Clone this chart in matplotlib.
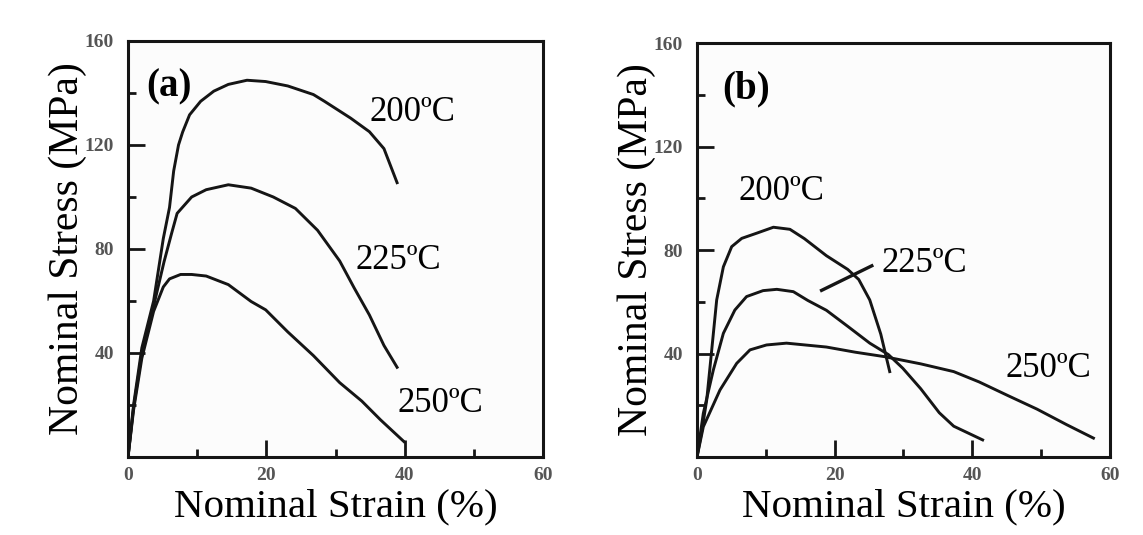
import matplotlib
matplotlib.use("Agg")
import matplotlib.pyplot as plt
from matplotlib.ticker import MultipleLocator

plt.rcParams['font.family'] = ['Liberation Serif', 'DejaVu Serif']

# (a) curvas tension-deformacion
a200_x = [0, 0.8, 2.0, 3.7, 5.1, 6.0, 6.6, 7.3, 7.9, 8.9, 10.5, 12.4, 14.5, 17.2, 19.9,
          23.1, 26.8, 28.4, 32.2, 34.9, 37.0, 38.9]
a200_y = [0, 20, 42, 60, 84, 96, 110, 120, 125, 131.6, 136.8, 140.7, 143.3, 144.9, 144.4,
          142.7, 139.4, 136.8, 130.3, 125.1, 118.6, 105.5]
a225_x = [0, 0.8, 2.0, 3.7, 5.2, 6.3, 7.1, 9.2, 11.3, 14.5, 17.8, 21.0, 24.2, 27.4, 30.6,
          32.7, 34.9, 37.0, 38.9]
a225_y = [0, 19, 40, 58, 75, 86, 93.7, 100, 102.8, 104.7, 103.4, 100, 95.6, 87.2, 75.4,
          65, 54.6, 42.9, 34.5]
a250_x = [0, 0.8, 2.0, 3.7, 5.1, 6.0, 7.6, 9.2, 11.3, 14.5, 17.8, 19.9, 23.1, 26.8, 30.6,
          33.8, 36.5, 39.9]
a250_y = [0, 18, 38, 56, 65.4, 68.5, 70.2, 70.2, 69.6, 66.3, 59.8, 56.6, 48.1, 39, 28.6,
          21.5, 14.3, 5.9]

# (b)
b200_x = [0, 0.7, 1.41, 2.14, 2.86, 3.83, 5.04, 6.5, 8.67, 11.1, 13.5, 15.6, 18.8, 21.9,
          23.5, 25.1, 26.7, 28.0]
b200_y = [0, 10, 22, 41.4, 60.7, 73.5, 81.3, 84.5, 86.5, 88.8, 88.0, 84.4, 77.8, 72.5,
          68.6, 60.7, 47.5, 33]
b225_x = [0, 0.92, 2.37, 3.83, 5.5, 7.2, 9.6, 11.6, 14.0, 16.1, 18.8, 21.9, 25.1, 27.8,
          29.9, 32.5, 35.2, 37.3, 41.5]
b225_y = [0, 16.9, 33.6, 47.8, 56.8, 62, 64.3, 64.8, 63.9, 60.5, 56.7, 50.5, 44, 39.6,
          34.3, 26.4, 17.1, 11.9, 6.6]
b250_x = [0, 0.92, 3.34, 5.77, 7.7, 10.1, 13.0, 18.8, 23.0, 27.2, 32.5, 37.3, 41.0, 45.2,
          49.4, 53.7, 57.6]
b250_y = [0, 11.7, 25.9, 36.2, 41.4, 43.3, 44.0, 42.5, 40.5, 38.8, 36.0, 33.0, 29.0, 23.7,
          18.5, 12.5, 7.3]

temps = ['200ºC', '225ºC', '250ºC']
pos_a = [(41.1, 132.6), (39.1, 75.7), (45.2, 20.7)]
pos_b = [(12.2, 102.6), (33.0, 74.9), (51.1, 34.3)]
linea_225b = ([18.1, 25.4], [64.4, 73.9])

x_ticks = [0, 20, 40, 60]
y_ticks = [0, 40, 80, 120, 160]
y_ticklabels = ['', '40', '80', '120', '160']

negro = '#151515'

fig = plt.figure(figsize=(11.43, 5.35), dpi=100)
ax_a = fig.add_axes([0.112, 0.1458, 0.3631, 0.7776])
ax_b = fig.add_axes([0.6098, 0.1458, 0.3613, 0.7738])


def formato(ax, letra, letra_x):
    ax.set_facecolor('#fcfcfc')
    ax.set_xlim(0, 60)
    ax.set_ylim(0, 160)
    ax.set_xticks(x_ticks)
    ax.set_yticks(y_ticks)
    ax.set_yticklabels(y_ticklabels)
    ax.xaxis.set_minor_locator(MultipleLocator(10))
    ax.yaxis.set_minor_locator(MultipleLocator(20))
    ax.tick_params(which='both', direction='in', top=False, right=False,
                   colors=negro, labelcolor='#555555', labelsize=14, width=2)
    ax.tick_params(which='major', length=12)
    ax.tick_params(axis='x', which='major', pad=7)
    ax.tick_params(axis='y', which='major', pad=10)
    ax.tick_params(which='minor', length=6)
    for t in ax.get_xticklabels() + ax.get_yticklabels():
        t.set_fontweight('bold')
    for s in ax.spines.values():
        s.set_linewidth(2.2)
        s.set_color(negro)
    ax.set_xlabel('Nominal Strain (%)', fontsize=29.5)
    ax.set_ylabel('Nominal Stress (MPa)', fontsize=30)
    ax.xaxis.set_label_coords(0.5, -0.075)
    ax.yaxis.set_label_coords(-0.1, 0.5)
    ax.text(letra_x, 0.89, letra, transform=ax.transAxes, fontsize=28,
            fontweight='bold', va='center', ha='left')


for ax, curvas, pos, letra, lx in [
        (ax_a, [(a200_x, a200_y), (a225_x, a225_y), (a250_x, a250_y)], pos_a, '(a)', 0.045),
        (ax_b, [(b200_x, b200_y), (b225_x, b225_y), (b250_x, b250_y)], pos_b, '(b)', 0.06)]:
    for (x, y) in curvas:
        ax.plot(x, y, color=negro, lw=2.1, solid_joinstyle='round')
    for t, (px, py) in zip(temps, pos):
        ax.text(px, py, t, fontsize=25, ha='center', va='center')
    formato(ax, letra, lx)

ax_b.plot(linea_225b[0], linea_225b[1], color=negro, lw=2.4)

fig.savefig('out.png', dpi=100, facecolor='white')
